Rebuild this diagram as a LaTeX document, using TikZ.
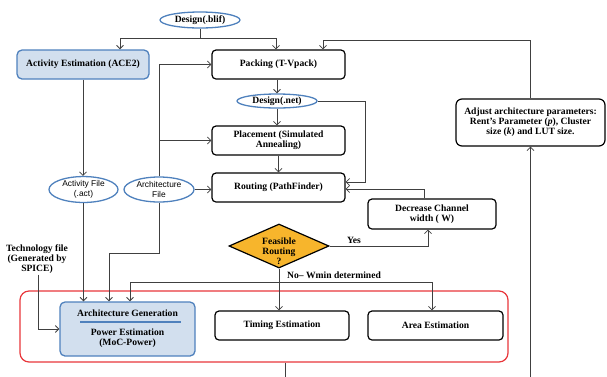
\documentclass[tikz,border=0pt]{standalone}
\usepackage{fontspec}
\setmainfont{Liberation Serif}
\setsansfont{Liberation Sans}
\usetikzlibrary{shapes.geometric,arrows.meta}
\definecolor{bord}{HTML}{4F81BD}
\definecolor{lfill}{HTML}{D2DFEE}
\definecolor{gold}{HTML}{F7B52C}
\definecolor{redf}{HTML}{E8363B}
\definecolor{conn}{HTML}{404040}
\begin{document}
\begin{tikzpicture}[x=1pt,y=-1pt,
 every node/.style={font=\fontsize{9.6}{10}\selectfont\bfseries, align=center, inner sep=1pt},
 blk/.style={draw, rounded corners=4pt, line width=1.2pt},
 bbox/.style={draw=bord, fill=lfill, rounded corners=5pt, line width=1.3pt},
 fileell/.style={ellipse, draw=bord, line width=1.3pt, inner sep=0pt},
 ftxt/.style={font=\sffamily\fontsize{8.4}{10.5}\selectfont},
 arr/.style={draw=conn, line width=0.8pt, -{Straight Barb[length=3.5pt,width=7pt]}},
 ln/.style={draw=conn, line width=0.8pt},
]
\useasboundingbox (0,0) rectangle (607,376);
\clip (0,0) rectangle (607,376);

% nodes
\node[fileell, minimum width=80, minimum height=16] (blif) at (200,20) {Design(.blif)};
\node[bbox, minimum width=132, minimum height=29] (ace) at (83,64.5) {Activity Estimation (ACE2)};
\node[blk, minimum width=133, minimum height=29] (pack) at (278.5,64.5) {Packing (T-Vpack)};
\node[fileell, minimum width=80, minimum height=14] (net) at (277,101) {Design(.net)};
\node[blk, minimum width=133, minimum height=29] (place) at (278.5,140.5) {Placement (Simulated\\Annealing)};
\node[blk, minimum width=133, minimum height=29] (route) at (278.5,187.5) {Routing (PathFinder)};
\node[fileell, ftxt, minimum width=69, minimum height=25] (actf) at (83.5,189.5) {Activity File\\(.act)};
\node[fileell, ftxt, minimum width=70, minimum height=25] (archf) at (159,189.5) {Architecture\\File};
\node[diamond, draw, fill=gold, line width=1.2pt, minimum width=100, minimum height=44, aspect=2.27, inner sep=0pt] (dia) at (279,246) {};
\node (diatext) at (279,251) {Feasible\\Routing\\?};
\node[blk, minimum width=128, minimum height=30] (dec) at (432,214) {Decrease Channel\\width ( W)};
\node[blk, minimum width=149, minimum height=47, rounded corners=6pt] (adj) at (530.5,122.5) {Adjust architecture parameters:\\Rent's Parameter (\textit{p}), Cluster\\size (\textit{k}) and LUT size.};
\node (tech) at (37,259) {Technology file\\(Generated by\\SPICE)};
\node[draw=redf, line width=1.2pt, rounded corners=9pt, minimum width=488, minimum height=71] (frame) at (264,326.5) {};
\node[bbox, minimum width=135, minimum height=54] (archgen) at (127.5,329) {};
\node (agt) at (127.5,313) {Architecture Generation};
\node (pet) at (127.5,338) {Power Estimation\\(MoC-Power)};
\draw[bord, line width=1.2pt] (80,322) -- (181,322);
\node[blk, minimum width=134, minimum height=29] (timing) at (282,325.5) {Timing Estimation};
\node[blk, minimum width=135, minimum height=29] (area) at (435.5,325.5) {Area Estimation};
\node (yes) at (354,240) {Yes};
\node (nolab) at (334,275) {No-- Wmin determined};

% connectors
\draw[ln] (blif.south) -- (blif.south |- 0,38) coordinate (sp);
\draw[arr] (sp) -| (ace.north -| 120,0);
\draw[arr] (sp) -| (pack.north -| 276,0);
\draw[arr] (pack.south -| net.north) -- (net.north);
\draw[arr] (net.south) -- (net.south |- place.north);
\draw[arr] (place.south) -- (route.north);
\draw[arr] (net.east) -| (365,182) -- (route.east |- 0,182);
\draw[arr] (dec.north -| 424,0) |- (route.east |- 0,189);
\draw[arr] (dia.east) -| (dec.south -| 428,0);
\draw[arr] (dia.south) -- (dia.south |- timing.north);
\draw[ln] (dia.south |- 0,282) coordinate (jn);
\draw[arr] (jn) -| (archgen.north -| 130,0);
\draw[arr] (jn) -| (area.north -| 432,0);
\draw[arr] (ace.south) -- (ace.south |- actf.north);
\draw[arr] (actf.south) -- (actf.south |- archgen.north);
\draw[arr] (archf.north) |- (pack.west);
\draw[arr] (archf.north |- place.west) -- (place.west);
\draw[arr] (archf.east) -- (archf.east -| route.west);
\draw[arr] (archf.south) -- (159,253) -| (archgen.north -| 109,0);
\draw[arr] (tech.south -| 38,0) |- (archgen.west);
\draw[arr] (frame.south -| 285,0) -- (285,395) -| (adj.south);
\draw[arr] (adj.north) -- (adj.north |- 0,40) -| (pack.north -| 323,0);
\end{tikzpicture}
\end{document}
